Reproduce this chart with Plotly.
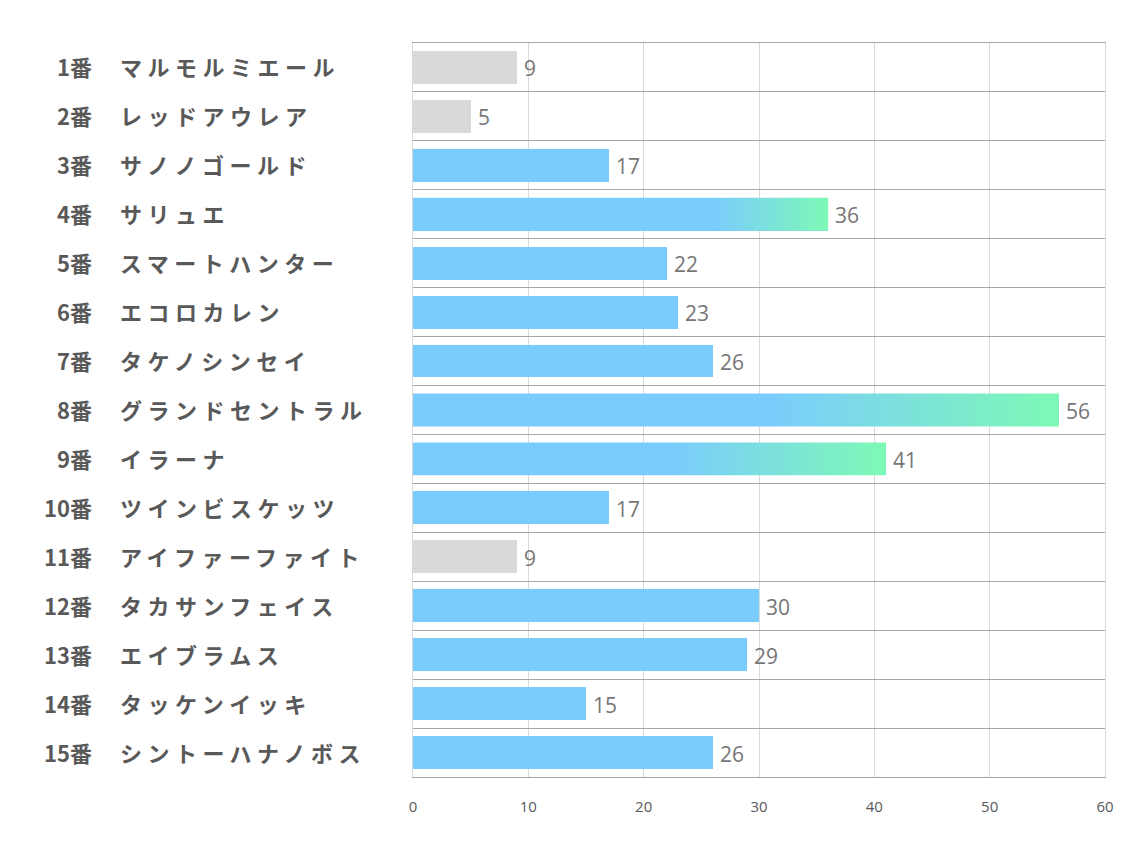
import plotly.graph_objects as go

numbers = ["1番", "2番", "3番", "4番", "5番", "6番", "7番", "8番", "9番", "10番",
           "11番", "12番", "13番", "14番", "15番"]
names = ["マルモルミエール", "レッドアウレア", "サノノゴールド", "サリュエ", "スマートハンター",
         "エコロカレン", "タケノシンセイ", "グランドセントラル", "イラーナ", "ツインビスケッツ",
         "アイファーファイト", "タカサンフェイス", "エイブラムス", "タッケンイッキ", "シントーハナノボス"]
values = [9, 5, 17, 36, 22, 23, 26, 56, 41, 17, 9, 30, 29, 15, 26]
kind = ["gray", "gray", "blue", "grad", "blue", "blue", "blue", "grad", "grad", "blue",
        "gray", "blue", "blue", "blue", "blue"]
x_ticks = [0, 10, 20, 30, 40, 50, 60]

BLUE = "#7ACBFE"
GREEN = "#7EF9B6"
GRAY = "#D9D9D9"
LABEL = "#595959"
VAL = "#767676"
BAR_W = 0.67

# page body has an 8px margin; compensate so the plot lands where the reference has it
OFF = 8
W, H = 1134 - OFF, 850 - OFF
L, T = 413 - OFF, 43 - OFF
pw, ph = 692, 734
R = W - L - pw
B = H - T - ph

idx = list(range(len(values)))
colors = [GRAY if k == "gray" else BLUE for k in kind]

fig = go.Figure()
fig.add_trace(go.Bar(
    x=values, y=idx, orientation="h", width=BAR_W,
    marker=dict(color=colors, line=dict(width=0)),
    hoverinfo="skip",
))

# gradient bars drawn as filled polygons
for i, (v, k) in enumerate(zip(values, kind)):
    if k != "grad":
        continue
    frac = 0.72 if v < 40 else 0.54
    xs = [0, v, v, 0, 0]
    ys = [i - BAR_W / 2, i - BAR_W / 2, i + BAR_W / 2, i + BAR_W / 2, i - BAR_W / 2]
    fig.add_trace(go.Scatter(
        x=xs, y=ys, mode="lines", fill="toself", line=dict(width=0),
        fillgradient=dict(type="horizontal", colorscale=[[0, BLUE], [frac, BLUE], [1, GREEN]]),
        hoverinfo="skip", showlegend=False,
    ))

annotations = []
for i, v in enumerate(values):
    annotations.append(dict(
        x=v, xref="x", y=i, yref="y", text=str(v), showarrow=False,
        xanchor="left", yanchor="middle", xshift=5, yshift=-1,
        font=dict(family="Open Sans, Noto Sans", size=21, color=VAL),
    ))
for i, (n, nm) in enumerate(zip(numbers, names)):
    annotations.append(dict(
        x=(94 - 413) / pw, xref="paper", y=i, yref="y", text=f"<b>{n}</b>",
        showarrow=False, xanchor="right", yanchor="middle", yshift=1,
        font=dict(family="Noto Sans CJK JP", size=22, color=LABEL),
    ))
    annotations.append(dict(
        x=(118 - 413) / pw, xref="paper", y=i, yref="y",
        text=f"<span style='letter-spacing:5.5px'><b>{nm}</b></span>",
        showarrow=False, xanchor="left", yanchor="middle", yshift=1,
        font=dict(family="Noto Sans CJK JP", size=22, color=LABEL),
    ))

n = len(values)
fig.update_layout(
    width=W, height=H, margin=dict(l=L, r=R, t=T, b=B),
    paper_bgcolor="white", plot_bgcolor="white", showlegend=False,
    annotations=annotations, bargap=0,
    xaxis=dict(range=[0, 60], tickvals=x_ticks, showgrid=True, gridcolor="#D9D9D9",
               gridwidth=1, zeroline=False, showline=True, mirror=True,
               linecolor="#A6A6A6", linewidth=1,
               tickfont=dict(family="Open Sans, Noto Sans", size=15, color=LABEL),
               ticks="", ticklabelstandoff=16, fixedrange=True),
    yaxis=dict(range=[n - 0.5, -0.5], tickvals=[i - 0.5 for i in range(n + 1)],
               showticklabels=False, showgrid=True, gridcolor="#A6A6A6", gridwidth=1,
               zeroline=False, showline=True, mirror=True, linecolor="#D9D9D9",
               linewidth=1, ticks="", fixedrange=True),
)

fig.write_html("out.html")
